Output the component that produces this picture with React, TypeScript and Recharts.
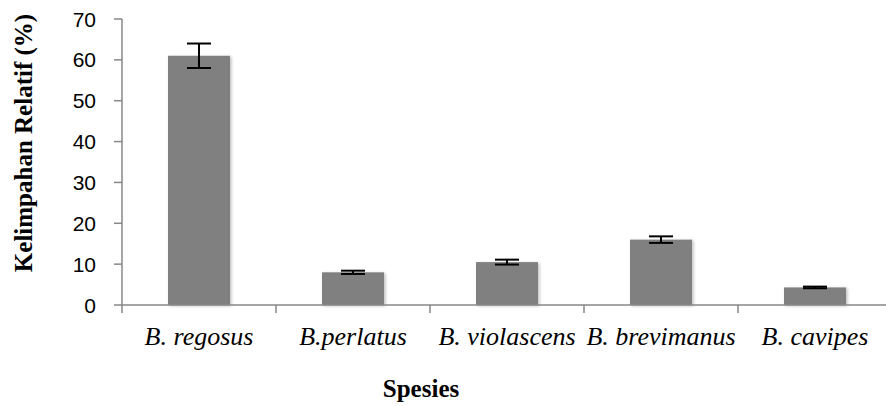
import React from 'react';
import { BarChart, Bar, XAxis, YAxis, ErrorBar } from 'recharts';

const species = ['B. regosus', 'B.perlatus', 'B. violascens', 'B. brevimanus', 'B. cavipes'];
const values = [61, 8, 10.5, 16, 4.3];
const errors = [3, 0.4, 0.6, 0.8, 0.2];
const yTicks = [0, 10, 20, 30, 40, 50, 60, 70];

const data = species.map((name, i) => ({ name, value: values[i], err: errors[i] }));

const AXIS = '#878787';

const CatTick = (props: any) => {
  const { x, payload, index, visibleTicksCount } = props;
  const half = payload && payload.offset ? payload.offset : 77;
  const axisY = 305;
  const isLast = visibleTicksCount ? index === visibleTicksCount - 1 : index === species.length - 1;
  return (
    <g>
      <line x1={x - half} y1={axisY} x2={x - half} y2={axisY + 8} stroke={AXIS} strokeWidth={1.5} />
      {isLast && <line x1={x + half} y1={axisY} x2={x + half} y2={axisY + 8} stroke={AXIS} strokeWidth={1.5} />}
      <text x={x} y={345} textAnchor="middle" fontFamily="'Liberation Serif', 'Times New Roman', serif" fontStyle="italic" fontSize={26} fill="#000">
        {payload.value}
      </text>
    </g>
  );
};

const YTick = (props: any) => {
  const { y, payload } = props;
  return (
    <text x={96} y={y + 7.5} textAnchor="end" fontFamily="'Liberation Sans', Arial, sans-serif" fontSize={21} fill="#000">
      {payload.value}
    </text>
  );
};

const ShadowBar = (props: any) => {
  const { x, y, width, height } = props;
  return <rect x={x} y={y} width={width} height={height} fill="#808080" filter="url(#barShadow)" />;
};

export default function App() {
  return (
    <div style={{ position: 'absolute', left: 0, top: 0, width: 886, height: 406, overflow: 'hidden', background: '#fff' }}>
      <BarChart width={892} height={406} data={data} margin={{ top: 19, right: 0, left: 0, bottom: 0 }} barCategoryGap={0}>
        <defs>
          <filter id="barShadow" x="-20%" y="-20%" width="140%" height="140%">
            <feDropShadow dx="1.5" dy="1" stdDeviation="1.5" floodColor="#000" floodOpacity="0.25" />
          </filter>
        </defs>
        <XAxis
          dataKey="name"
          height={101}
          axisLine={{ stroke: AXIS, strokeWidth: 1.5 }}
          tickLine={false}
          tick={<CatTick />}
          interval={0}
        />
        <YAxis
          width={122}
          domain={[0, 70]}
          ticks={yTicks}
          interval={0}
          axisLine={{ stroke: AXIS, strokeWidth: 1.5 }}
          tickLine={{ stroke: AXIS, strokeWidth: 1.5 }}
          tickSize={8}
          tick={<YTick />}
        />
        <Bar dataKey="value" barSize={62} fill="#808080" shape={<ShadowBar />} isAnimationActive={false}>
          <ErrorBar dataKey="err" width={12} strokeWidth={2} stroke="#000" isAnimationActive={false} />
        </Bar>
        <text x={32} y={143} textAnchor="middle" transform="rotate(-90, 32, 143)" fontFamily="'Liberation Serif', 'Times New Roman', serif" fontWeight="bold" fontSize={25} fill="#000">
          Kelimpahan Relatif (%)
        </text>
        <text x={421} y={397} textAnchor="middle" fontFamily="'Liberation Serif', 'Times New Roman', serif" fontWeight="bold" fontSize={25} fill="#000">
          Spesies
        </text>
      </BarChart>
    </div>
  );
}
